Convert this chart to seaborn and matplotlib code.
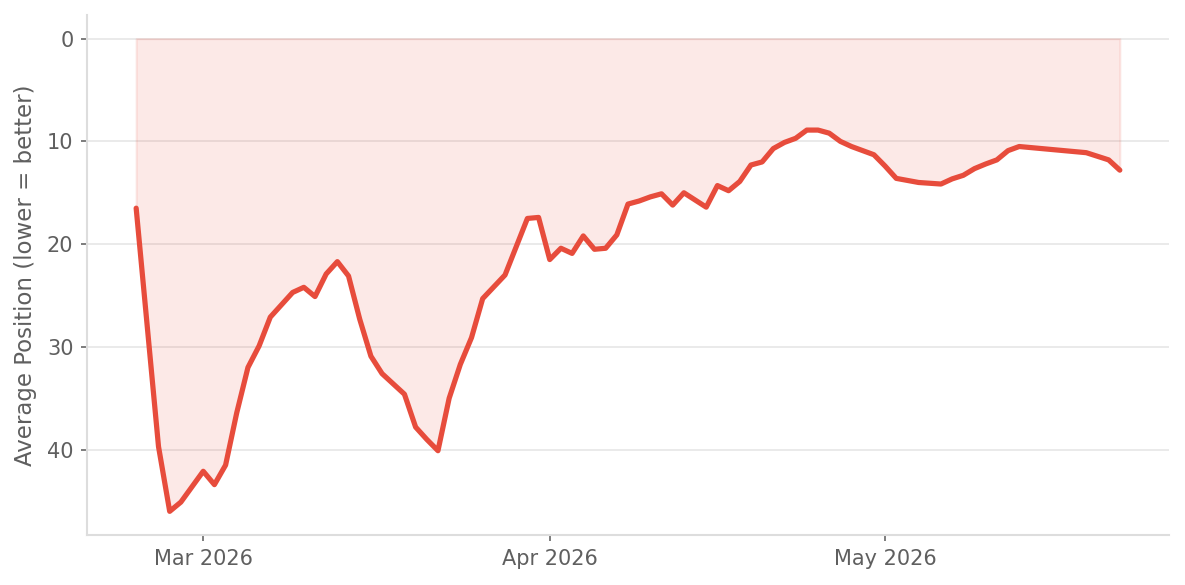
import pandas as pd
import matplotlib
matplotlib.use('Agg')
import matplotlib.pyplot as plt
import matplotlib.dates as mdates
import seaborn as sns

# -------------------------------------------------------------
# DADOS
# -------------------------------------------------------------
datas = [
    '2026-02-23', '2026-02-25', '2026-02-26', '2026-02-27', '2026-03-01',
    '2026-03-02', '2026-03-03', '2026-03-04', '2026-03-05', '2026-03-06',
    '2026-03-07', '2026-03-08', '2026-03-09', '2026-03-10', '2026-03-11',
    '2026-03-12', '2026-03-13', '2026-03-14', '2026-03-15', '2026-03-16',
    '2026-03-17', '2026-03-18', '2026-03-19', '2026-03-20', '2026-03-21',
    '2026-03-22', '2026-03-23', '2026-03-24', '2026-03-25', '2026-03-26',
    '2026-03-28', '2026-03-30', '2026-03-31', '2026-04-01', '2026-04-02',
    '2026-04-03', '2026-04-04', '2026-04-05', '2026-04-06', '2026-04-07',
    '2026-04-08', '2026-04-09', '2026-04-10', '2026-04-11', '2026-04-12',
    '2026-04-13', '2026-04-14', '2026-04-15', '2026-04-16', '2026-04-17',
    '2026-04-18', '2026-04-19', '2026-04-20', '2026-04-21', '2026-04-22',
    '2026-04-23', '2026-04-24', '2026-04-25', '2026-04-26', '2026-04-27',
    '2026-04-28', '2026-04-29', '2026-04-30', '2026-05-01', '2026-05-02',
    '2026-05-04', '2026-05-06', '2026-05-07', '2026-05-08', '2026-05-09',
    '2026-05-10', '2026-05-11', '2026-05-12', '2026-05-13', '2026-05-19',
    '2026-05-21', '2026-05-22',
]
posicao = [
    16.5, 39.7, 46.0, 45.1, 42.1,
    43.4, 41.5, 36.4, 32.0, 29.9,
    27.1, 25.9, 24.7, 24.2, 25.1,
    22.9, 21.7, 23.1, 27.3, 30.9,
    32.6, 33.6, 34.6, 37.8, 39.0,
    40.1, 35.0, 31.7, 29.1, 25.3,
    23.0, 17.5, 17.4, 21.5, 20.4,
    20.9, 19.2, 20.5, 20.4, 19.1,
    16.1, 15.8, 15.4, 15.1, 16.2,
    15.0, 15.7, 16.4, 14.3, 14.8,
    13.9, 12.3, 12.0, 10.7, 10.1,
    9.7, 8.9, 8.9, 9.2, 10.0,
    10.5, 10.9, 11.3, 12.4, 13.6,
    14.0, 14.15, 13.65, 13.3, 12.65,
    12.2, 11.8, 10.9, 10.5, 11.1,
    11.8, 12.8,
]

df = pd.DataFrame({'data': pd.to_datetime(datas), 'posicao': posicao})

# -------------------------------------------------------------
# CONFIGURAÇÃO VISUAL
# -------------------------------------------------------------
sns.set_theme(style='whitegrid')
plt.rcParams['font.family'] = 'DejaVu Sans'

cor = '#e74c3c'
cinza_txt = '#5f5f5f'

fig, ax = plt.subplots(figsize=(7.9, 3.9), dpi=150)
fig.patch.set_facecolor('white')
ax.set_facecolor('white')

ax.fill_between(df['data'], 0, df['posicao'], color=cor, alpha=0.12)
sns.lineplot(data=df, x='data', y='posicao', ax=ax, color=cor, linewidth=2.5)

ax.invert_yaxis()
ax.set_yticks([0, 10, 20, 30, 40])

ax.xaxis.set_major_locator(mdates.MonthLocator())
ax.xaxis.set_major_formatter(mdates.DateFormatter('%b %Y'))

ax.set_xlabel('')
ax.set_ylabel('Average Position (lower = better)', fontsize=11, color=cinza_txt,
              labelpad=5)

ax.grid(axis='x', visible=False)
ax.grid(axis='y', color='#e6e6e6', linewidth=0.8)

sns.despine(ax=ax)
for lado in ['left', 'bottom']:
    ax.spines[lado].set_color('#dddddd')
    ax.spines[lado].set_linewidth(1.0)

ax.tick_params(axis='both', which='major', labelsize=10, labelcolor=cinza_txt,
               color='#666666', length=3, width=0.8, pad=3.5,
               bottom=True, left=True)

fig.subplots_adjust(left=0.0734, right=0.9865, top=0.9744, bottom=0.0855)
plt.savefig('out.png', dpi=150, facecolor='white')
